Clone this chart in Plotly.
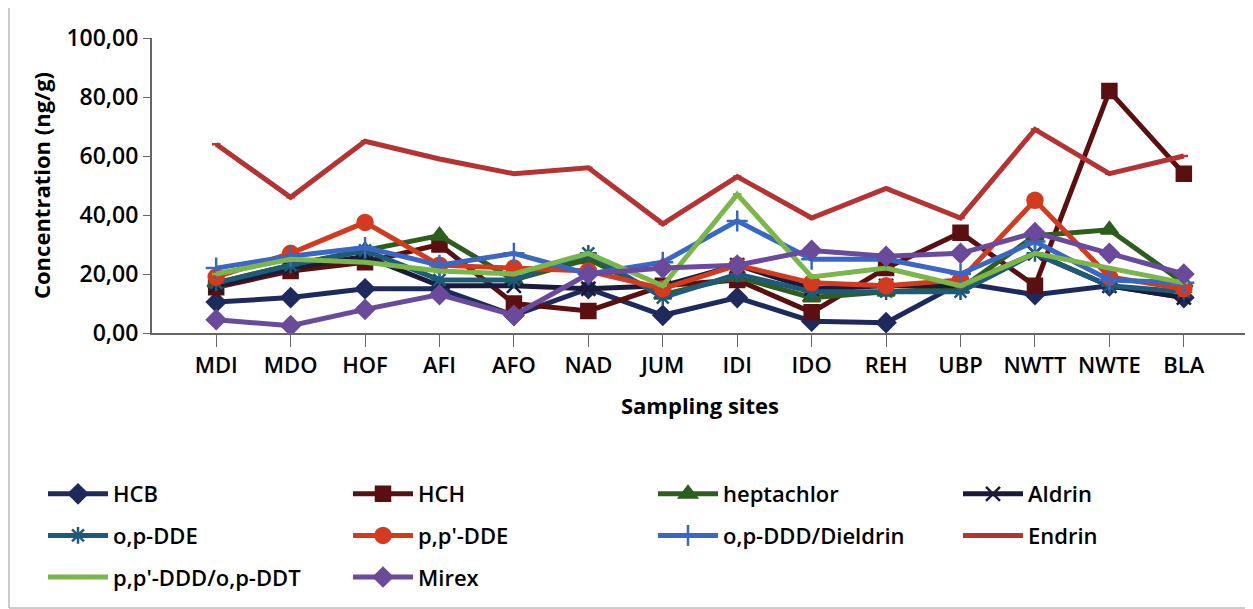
import plotly.graph_objects as go

sites = ["MDI","MDO","HOF","AFI","AFO","NAD","JUM","IDI","IDO","REH","UBP","NWTT","NWTE","BLA"]
HCB = [10.5,12,15,15,6,15,6,12,4,3.5,17,13,16,12]
HCH = [15.5,21,24,30,10,7.5,16,18,7,22,34,16,82,54]
heptachlor = [17,23,28,33,18,25,13,19,12,14,15,33,35,17]
aldrin = [16,22,26,16,16,15,16,23,15,16,16,27,16,12]
opDDE = [17,23,28,18,18,27,12,20,14,14,14,27,16,14]
ppDDE = [19,27,37.5,23,22,21,15,23,17,16,18,45,19,15]
opDDD = [22,26,29,23,27,20,24,38,25,25,20,31,18,17]
endrin = [64,46,65,59,54,56,37,53,39,49,39,69,54,60]
ppDDD = [20,25,24,21,20,27,16,47,19,22,16,27,22,17]
mirex = [4.5,2.5,8,13,6,20,22,23,28,26,27,34,27,20]

series = [
    ("HCB", HCB, "#1f2a5c", "diamond", 14, "legend"),
    ("HCH", HCH, "#5a1010", "square", 14, "legend2"),
    ("heptachlor", heptachlor, "#2e5e1e", "triangle-up", 15, "legend3"),
    ("Aldrin", aldrin, "#1a1a3a", "x-thin-open", 14, "legend4"),
    ("o,p-DDE", opDDE, "#1f5a78", "asterisk-open", 14, "legend"),
    ("p,p'-DDE", ppDDE, "#d33a1e", "circle", 15, "legend2"),
    ("o,p-DDD/Dieldrin", opDDD, "#3a66c4", "cross-thin-open", 15, "legend3"),
    ("Endrin", endrin, "#b53333", "line-ew-open", 6, "legend4"),
    ("p,p'-DDD/o,p-DDT", ppDDD, "#7ab648", "line-ew-open", 6, "legend"),
    ("Mirex", mirex, "#6a4a9a", "diamond", 14, "legend2"),
]

fig = go.Figure()
for i, (name, vals, col, sym, sz, lg) in enumerate(series):
    fig.add_trace(go.Scatter(x=sites, y=vals, name=name, mode="lines+markers",
        legend=lg, legendgroup=name,
        line=dict(color=col, width=5),
        marker=dict(symbol=sym, size=sz, color=col, line=dict(color=col, width=2.5))))

W, H = 1253, 609
l, r, t, b = 144, 13, 30, 284
pw, ph = W - l - r, H - t - b
def px(x): return (x - l) / pw
def py(y): return (H - b - y) / ph

legfont = dict(family="Open Sans", size=22, color="black", weight=600)
def leg(x):
    return dict(x=px(x), xanchor="left", y=py(465), yanchor="top", font=legfont,
                tracegroupgap=10, bgcolor="rgba(0,0,0,0)", itemwidth=60)

fig.update_layout(
    width=W, height=H, paper_bgcolor="white", plot_bgcolor="white",
    margin=dict(l=l, r=r, t=t, b=b, autoexpand=False),
    font=dict(family="Open Sans", size=22, color="black"),
    separators=",.",
    xaxis=dict(showline=True, linecolor="#666", linewidth=2, ticks="outside", ticklen=12,
               tickcolor="#666", tickfont=dict(size=22, weight=600),
               title=dict(text="<b>Sampling sites</b>", font=dict(size=22), standoff=20),
               showgrid=False),
    yaxis=dict(range=[0,100], dtick=20, tickformat=".2f",
               showline=True, linecolor="#666", linewidth=2, ticks="outside", ticklen=7,
               tickcolor="#666", showgrid=False, tickfont=dict(size=23, weight=600),
               title=dict(text="<b>Concentration (ng/g)</b>", font=dict(size=22), standoff=10)),
    legend=leg(35), legend2=leg(340), legend3=leg(645), legend4=leg(950),
    shapes=[dict(type="rect", xref="paper", yref="paper", x0=px(1), x1=px(1250),
                 y0=py(600), y1=py(-6), line=dict(color="#999", width=1))],
)
fig.write_html("out.html")
